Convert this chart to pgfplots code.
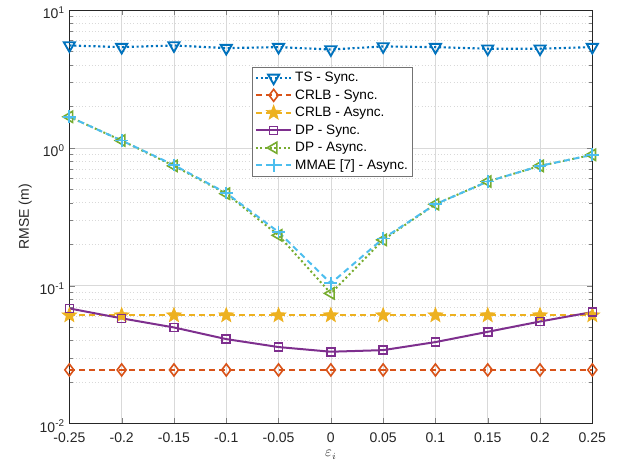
\documentclass[border=0pt]{standalone}
\usepackage{pgfplots}
\pgfplotsset{compat=1.18}
\usepackage{fontspec}
\setmainfont{Liberation Sans}
\definecolor{c1}{rgb}{0,0.447,0.741}
\definecolor{c2}{rgb}{0.85,0.325,0.098}
\definecolor{c3}{rgb}{0.929,0.694,0.125}
\definecolor{c4}{rgb}{0.494,0.184,0.556}
\definecolor{c5}{rgb}{0.466,0.674,0.188}
\definecolor{c6}{rgb}{0.301,0.745,0.933}
\pgfdeclareplotmark{fstar}{%
  \pgfpathmoveto{\pgfqpointpolar{90}{\pgfplotmarksize}}%
  \pgfpathlineto{\pgfqpointpolar{126}{0.42\pgfplotmarksize}}%
  \pgfpathlineto{\pgfqpointpolar{162}{\pgfplotmarksize}}%
  \pgfpathlineto{\pgfqpointpolar{198}{0.42\pgfplotmarksize}}%
  \pgfpathlineto{\pgfqpointpolar{234}{\pgfplotmarksize}}%
  \pgfpathlineto{\pgfqpointpolar{270}{0.42\pgfplotmarksize}}%
  \pgfpathlineto{\pgfqpointpolar{306}{\pgfplotmarksize}}%
  \pgfpathlineto{\pgfqpointpolar{342}{0.42\pgfplotmarksize}}%
  \pgfpathlineto{\pgfqpointpolar{18}{\pgfplotmarksize}}%
  \pgfpathlineto{\pgfqpointpolar{54}{0.42\pgfplotmarksize}}%
  \pgfpathclose\pgfusepathqfillstroke}
\begin{document}
\begin{tikzpicture}
\begin{axis}[
  scale only axis,
  width=392pt, height=310pt,
  ymode=log,
  xmin=-0.25, xmax=0.25, ymin=1e-2, ymax=1e1,
  xtick={-0.25,-0.2,-0.15,-0.1,-0.05,0,0.05,0.1,0.15,0.2,0.25},
  xticklabels={-0.25,-0.2,-0.15,-0.1,-0.05,0,0.05,0.1,0.15,0.2,0.25},
  ytick={1e-2,1e-1,1e0,1e1},
  yticklabels={10\textsuperscript{-2},10\textsuperscript{-1},10\textsuperscript{0},10\textsuperscript{1}},
  tick label style={font=\fontsize{10.5pt}{12pt}\selectfont, text=black!85},
  xticklabel style={yshift=-3.5pt},
  yticklabel style={yshift=-2pt},
  /pgf/number format/assume math mode=true,
  tick align=inside,
  major tick length=4pt, minor tick length=2.5pt,
  grid=both,
  major grid style={black!15, line width=0.4pt},
  minor grid style={black!15, dotted, line width=0.4pt},
  minor x tick num=0,
  axis line style={black!85, line width=0.6pt},
  xlabel={$\varepsilon_i$},
  ylabel={RMSE (m)},
  label style={font=\fontsize{10.5pt}{12pt}\selectfont, text=black!85},
  xlabel style={yshift=1pt},
  ylabel style={yshift=-1pt},
  legend style={at={(rel axis cs:0.35,0.862)}, anchor=north west,
    font=\fontsize{10.2pt}{12pt}\selectfont, draw=black!55, line width=0.5pt,
    row sep=0.5pt, inner sep=1.5pt},
  legend cell align=left,
  legend image code/.code={
    \draw[mark repeat=2,mark phase=2] plot coordinates {(0cm,0cm) (0.47cm,0cm) (0.94cm,0cm)};},
  mark options={solid, line width=1pt, fill=white},
]
\addplot[c1, dotted, line width=1.6pt, mark=triangle, mark size=4.8pt, mark options={rotate=180, solid, fill=white, line width=1.4pt}] coordinates {
(-0.25,5.53) (-0.2,5.38) (-0.15,5.53) (-0.1,5.29) (-0.05,5.38) (0,5.17) (0.05,5.44) (0.1,5.38) (0.15,5.24) (0.2,5.24) (0.25,5.38)};
\addlegendentry{TS - Sync.}
\addplot[c2, dash pattern=on 4.5pt off 3pt, line width=1.4pt, mark=diamond, mark size=4.5pt, mark options={solid, fill=white, line width=1.2pt}] coordinates {
(-0.25,0.0245) (-0.2,0.0245) (-0.15,0.0245) (-0.1,0.0245) (-0.05,0.0245) (0,0.0245) (0.05,0.0245) (0.1,0.0245) (0.15,0.0245) (0.2,0.0245) (0.25,0.0245)};
\addlegendentry{CRLB - Sync.}
\addplot[c3, dash pattern=on 4.5pt off 3pt, line width=1.4pt, mark=fstar, mark size=5.8pt, mark options={solid, fill=c3, line width=0.5pt}] coordinates {
(-0.25,0.061) (-0.2,0.061) (-0.15,0.061) (-0.1,0.061) (-0.05,0.061) (0,0.061) (0.05,0.061) (0.1,0.061) (0.15,0.061) (0.2,0.061) (0.25,0.061)};
\addlegendentry{CRLB - Async.}
\addplot[c4, solid, line width=1.5pt, mark=square, mark size=3pt, mark options={solid, fill=white, line width=1.2pt}] coordinates {
(-0.25,0.0684) (-0.2,0.058) (-0.15,0.0498) (-0.1,0.041) (-0.05,0.0359) (0,0.0332) (0.05,0.0341) (0.1,0.039) (0.15,0.0463) (0.2,0.055) (0.25,0.0644)};
\addlegendentry{DP - Sync.}
\addplot[c5, dotted, line width=1.5pt, mark=triangle, mark size=4.8pt, mark options={rotate=90, solid, fill=white, line width=1.2pt}] coordinates {
(-0.25,1.68) (-0.2,1.13) (-0.15,0.74) (-0.1,0.465) (-0.05,0.232) (0,0.088) (0.05,0.215) (0.1,0.39) (0.15,0.57) (0.2,0.74) (0.25,0.89)};
\addlegendentry{DP - Async.}
\addplot[c6, dash pattern=on 4.5pt off 3pt, line width=1.5pt, mark=+, mark size=4.8pt, mark options={solid, line width=1.4pt}] coordinates {
(-0.25,1.68) (-0.2,1.13) (-0.15,0.75) (-0.1,0.47) (-0.05,0.245) (0,0.104) (0.05,0.22) (0.1,0.39) (0.15,0.57) (0.2,0.74) (0.25,0.89)};
\addlegendentry{MMAE [7] - Async.}
\end{axis}
\path (current axis.south west) ++(-52pt,-36.8pt) coordinate (bl);
\path (current axis.north east) ++(23pt,7.5pt) coordinate (tr);
\useasboundingbox (bl) rectangle (tr);
\end{tikzpicture}
\end{document}
